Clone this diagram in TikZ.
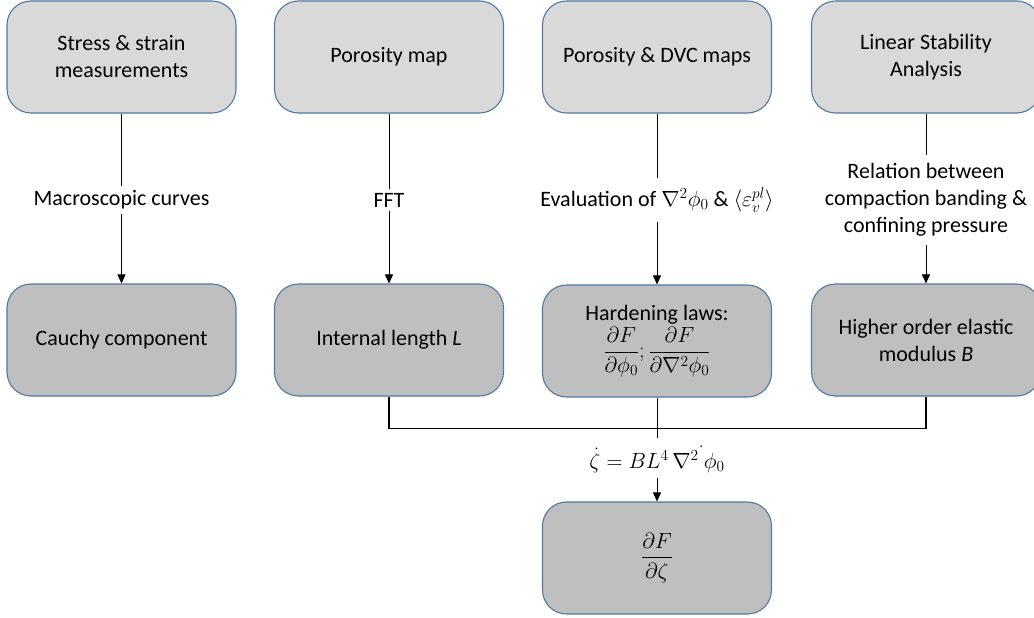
\RequirePackage{fix-cm}
\documentclass[tikz,border=0pt]{standalone}
\usepackage{amsmath}
\usepackage{fontspec}
\setmainfont{Carlito}
\usetikzlibrary{arrows.meta,positioning}
\definecolor{topfill}{HTML}{D9D9D9}
\definecolor{botfill}{HTML}{BFBFBF}
\definecolor{edgeblue}{HTML}{5079A3}
\tikzset{
  box/.style={draw=edgeblue, line width=1.1pt, rounded corners=24pt,
    minimum width=229pt, minimum height=112pt, align=center,
    font=\fontsize{22}{27}\selectfont, inner sep=2pt},
  topbox/.style={box, fill=topfill},
  botbox/.style={box, fill=botfill},
  lbl/.style={align=center, font=\fontsize{22}{27}\selectfont, inner sep=4pt},
  conn/.style={line width=0.8pt, black},
  arr/.style={conn, -{Triangle[length=9pt,width=8pt]}},
}
\begin{document}
\begin{tikzpicture}[x=1pt,y=-1pt]
\useasboundingbox (0,0) rectangle (1034,618);
% top row
\node[topbox] (t1) at (121.5,57) {Stress \& strain\\measurements};
\node[topbox] (t2) at (389,57) {Porosity map};
\node[topbox] (t3) at (657,57) {Porosity \& DVC maps};
\node[topbox] (t4) at (926,57) {Linear Stability\\Analysis};
% bottom row
\node[botbox] (b1) at (121.5,340) {Cauchy component};
\node[botbox] (b2) at (389,340) {Internal length \textit{L}};
\node[botbox] (b3) at (657,341) {Hardening laws:\\[2pt]$\displaystyle\frac{\partial F}{\partial\phi_0};\frac{\partial F}{\partial\nabla^2\phi_0}$};
\node[botbox] (b4) at (926,340) {Higher order elastic\\modulus \textit{B}};
% final
\node[botbox] (f) at (657,558) {$\displaystyle\frac{\partial F}{\partial\zeta}$};
% labels
\node[lbl] (l1) at (121.5,200) {Macroscopic curves};
\node[lbl] (l2) at (389,200) {FFT};
\node[lbl, inner sep=10pt] (l3) at (657,200) {Evaluation of $\nabla^2\phi_0$ \& $\langle\varepsilon_v^{pl}\rangle$};
\node[lbl, inner sep=8pt] (l4) at (926,200) {Relation between\\compaction banding \&\\confining pressure};
\node[lbl, inner sep=6pt] (eq) at (657,458) {$\dot{\zeta}=BL^4\,\nabla^{2\mkern1mu\raisebox{0.9ex}{$\scriptstyle\cdot$}}\phi_0$};
% connectors
\foreach \i in {1,2,3,4}{
  \draw[conn] (t\i.south) -- (l\i.north);
  \draw[arr] (l\i.south) -- (b\i.north);
}
\draw[conn, line width=1.2pt] (b2.south) -- ++(0,32) -| (b4.south);
\draw[conn] (b3.south) -- (eq.north);
\draw[arr] (eq.south) -- (f.north);
\end{tikzpicture}
\end{document}
